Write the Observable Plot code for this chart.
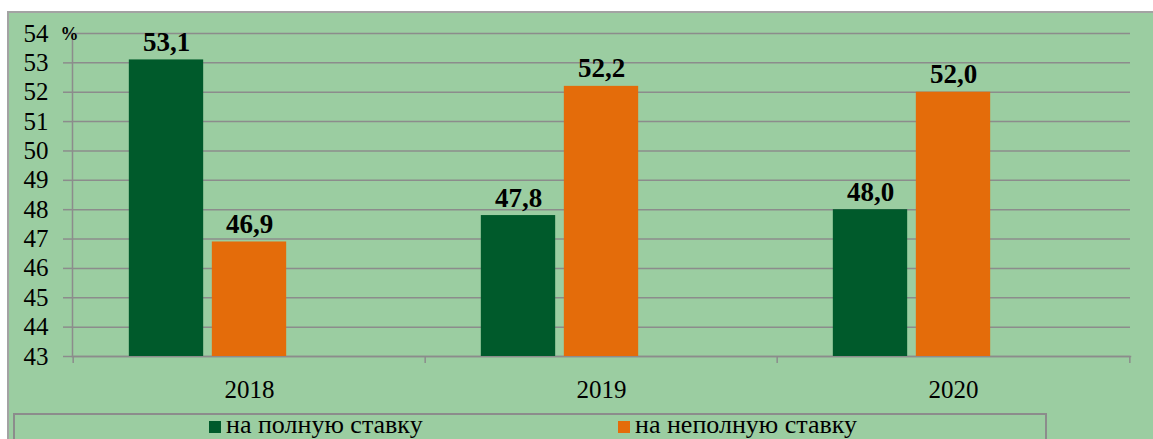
<!DOCTYPE html>
<html>
<head>
<meta charset="utf-8">
<script src="https://cdn.jsdelivr.net/npm/d3@7"></script>
<script src="https://cdn.jsdelivr.net/npm/@observablehq/plot@0.6"></script>
<style>
  html, body { margin: 0; padding: 0; background: #fff; }
  #wrap { position: relative; width: 1153px; height: 439px; overflow: hidden; background: #fff;
          font-family: "Liberation Serif", "DejaVu Serif", serif; }
  #bg { position: absolute; left: 7px; top: 11px; width: 1160px; height: 440px;
        background: #9bcda1; border: 2px solid #a3a3a3; box-sizing: border-box; }
  #chart { position: absolute; left: 0; top: 0; }
  #legend { position: absolute; left: 13px; top: 413px; width: 1034px; height: 40px;
            border: 2px solid #8c8c8c; box-sizing: border-box; }
  .item { position: absolute; top: -7px; display: flex; align-items: center; font-size: 26px; line-height: 30px; color: #000; white-space: nowrap; height: 34px; }
  .sw { width: 12px; height: 12px; margin-right: 5px; margin-top: 4px; }
  #chart svg text { font-family: "Liberation Serif", "DejaVu Serif", serif; }
</style>
</head>
<body>
<div id="wrap">
  <div id="bg"></div>
  <div id="chart"></div>
  <div id="legend"></div>
</div>
<script>
const years = ["2018", "2019", "2020"];
const fullRate = [53.1, 47.8, 48.0];
const partRate = [46.9, 52.2, 52.0];
const seriesNames = ["на полную ставку", "на неполную ставку"];
const yTicks = [43, 44, 45, 46, 47, 48, 49, 50, 51, 52, 53, 54];
const unitLabel = "%";

const green = "#005a2b";
const orange = "#e46c0a";
const gridColor = "#8c8c8c";
const fontFamily = "'Liberation Serif', 'DejaVu Serif', serif";

const W = 1153, H = 410, mL = 72, mR = 23, mT = 33, mB = 54;
const yMin = yTicks[0], yMax = yTicks[yTicks.length - 1];
const bw = (W - mL - mR) / years.length;
const barW = 75, gap = 8, slots = 3;
const groupW = slots * barW + (slots - 1) * gap;
const start = (bw - groupW) / 2;
const gL = start, gR = bw - (start + barW);
const oL = start + barW + gap, oR = bw - (start + 2 * barW + gap);
const gDx = (start + barW / 2) - bw / 2;
const oDx = (start + barW + gap + barW / 2) - bw / 2;
const pxPerUnit = (H - mT - mB) / (yMax - yMin);
const tickExt = 7 / pxPerUnit;

const rows = years.map((y, i) => ({year: y, full: fullRate[i], part: partRate[i]}));
const fmt = v => d3.format(".1f")(v).replace(".", ",");

const chart = Plot.plot({
  width: W, height: H,
  marginTop: mT, marginBottom: mB, marginLeft: mL, marginRight: mR,
  style: {background: "transparent", fontFamily, fontSize: "25px", color: "#000", overflow: "visible"},
  x: {type: "band", domain: years, padding: 0, label: null},
  y: {domain: [yMin, yMax], label: null},
  marks: [
    Plot.ruleY(yTicks, {y: d => d, stroke: gridColor, strokeWidth: 1.5}),
    Plot.axisY({ticks: yTicks, tickSize: 9, tickPadding: 15, stroke: gridColor, strokeWidth: 1.5, strokeOpacity: 1,
                tickFormat: d => String(d), fontSize: 25, fill: "#000", label: null}),
    Plot.frame({anchor: "left", stroke: gridColor, strokeWidth: 1.5, strokeOpacity: 1}),
    Plot.frame({anchor: "bottom", stroke: gridColor, strokeWidth: 1.5, strokeOpacity: 1}),
    Plot.ruleX(years, {x: d => d, y1: () => yMin, y2: () => yMin - tickExt, dx: -bw / 2, stroke: gridColor, strokeWidth: 1.5}),
    Plot.ruleX(years.slice(-1), {x: d => d, y1: () => yMin, y2: () => yMin - tickExt, dx: bw / 2, stroke: gridColor, strokeWidth: 1.5}),
    Plot.barY(rows, {x: "year", y1: () => yMin, y2: "full", fill: green, insetLeft: gL, insetRight: gR}),
    Plot.barY(rows, {x: "year", y1: () => yMin, y2: "part", fill: orange, insetLeft: oL, insetRight: oR}),
    Plot.text(rows, {x: "year", y: "full", text: d => fmt(d.full), dx: gDx, dy: -9, lineAnchor: "bottom",
                     fontWeight: "bold", fontSize: 27, fill: "#000"}),
    Plot.text(rows, {x: "year", y: "part", text: d => fmt(d.part), dx: oDx, dy: -9, lineAnchor: "bottom",
                     fontWeight: "bold", fontSize: 27, fill: "#000"}),
    Plot.axisX({tickSize: 0, tickPadding: 24, fontSize: 25, fill: "#000", label: null}),
    Plot.text([unitLabel], {frameAnchor: "top-left", text: d => d, textAnchor: "middle", dx: -3, dy: 1, lineAnchor: "middle",
                            fontWeight: "bold", fontSize: 18, fill: "#000"})
  ]
});
document.getElementById("chart").appendChild(chart);

const legend = document.getElementById("legend");
const legendColors = [green, orange];
const legendLeft = [194, 603];
seriesNames.forEach((name, i) => {
  const it = document.createElement("div");
  it.className = "item";
  it.style.left = legendLeft[i] + "px";
  const sw = document.createElement("div");
  sw.className = "sw";
  sw.style.background = legendColors[i];
  const tx = document.createElement("span");
  tx.textContent = name;
  it.appendChild(sw);
  it.appendChild(tx);
  legend.appendChild(it);
});
</script>
</body>
</html>
